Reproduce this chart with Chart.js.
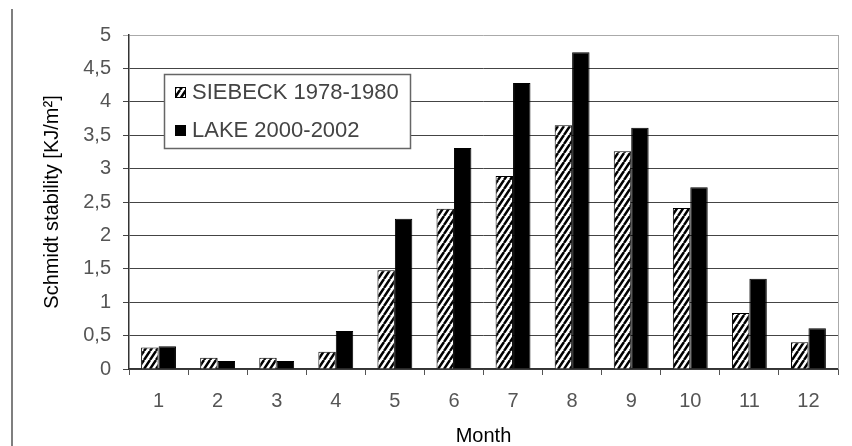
<!DOCTYPE html>
<html><head><meta charset="utf-8">
<script src="https://cdn.jsdelivr.net/npm/chart.js@4/dist/chart.umd.min.js"></script>
<style>html,body{margin:0;padding:0;background:#fff;}#wrap{position:relative;width:852px;height:446px;}</style>
</head><body><div id="wrap"><canvas id="c" width="852" height="446"></canvas></div>
<script>
const months = ['1','2','3','4','5','6','7','8','9','10','11','12'];
const siebeck = [0.32, 0.17, 0.17, 0.26, 1.48, 2.40, 2.89, 3.65, 3.26, 2.41, 0.84, 0.40];
const lake = [0.34, 0.12, 0.12, 0.57, 2.25, 3.31, 4.28, 4.74, 3.61, 2.72, 1.35, 0.61];
const seriesLabels = ['SIEBECK 1978-1980', 'LAKE 2000-2002'];
const yMin = 0, yMax = 5, yStep = 0.5;
const yTitle = 'Schmidt stability [KJ/m²]';
const xTitle = 'Month';

const FONT = '"Liberation Sans", Arial, sans-serif';
const canvas = document.getElementById('c');
const ctx0 = canvas.getContext('2d');

function makeHatch(ctx) {
  const w = 6, h = 9;
  const c = document.createElement('canvas');
  c.width = w; c.height = h;
  const g = c.getContext('2d');
  g.fillStyle = '#fff'; g.fillRect(0, 0, w, h);
  g.strokeStyle = '#000'; g.lineWidth = 2.5;
  g.beginPath();
  for (const dx of [-w, 0, w]) { g.moveTo(dx, h); g.lineTo(dx + w, 0); }
  g.stroke();
  return ctx.createPattern(c, 'repeat');
}
const hatch = makeHatch(ctx0);

const framePlugin = {
  id: 'frame',
  beforeDraw(chart) {
    const ctx = chart.ctx;
    ctx.save();
    ctx.fillStyle = '#fff';
    ctx.fillRect(0, 0, chart.width, chart.height);
    ctx.strokeStyle = '#555';
    ctx.lineWidth = 1.5;
    ctx.beginPath(); ctx.moveTo(12, 9); ctx.lineTo(12, chart.height); ctx.stroke();
    ctx.restore();
  },
  beforeDatasetsDraw(chart) {
    const a = chart.chartArea, ctx = chart.ctx;
    ctx.save();
    ctx.strokeStyle = '#aaa'; ctx.lineWidth = 1;
    ctx.beginPath(); ctx.moveTo(a.right + 0.5, a.top); ctx.lineTo(a.right + 0.5, a.bottom); ctx.stroke();
    ctx.restore();
  },
  afterDraw(chart) {
    const ctx = chart.ctx;
    ctx.save();
    const bx = 164, by = 74, bw = 246, bh = 74;
    ctx.fillStyle = '#fff';
    ctx.fillRect(bx, by, bw, bh);
    ctx.strokeStyle = '#666'; ctx.lineWidth = 1.5;
    ctx.strokeRect(bx + 0.5, by + 0.5, bw, bh);
    const rows = [92, 130];
    chart.data.datasets.forEach((ds, i) => {
      const y = rows[i];
      ctx.fillStyle = ds.backgroundColor;
      ctx.fillRect(175, y - 5, 10, 10);
      ctx.strokeStyle = '#000'; ctx.lineWidth = 1;
      ctx.strokeRect(175.5, y - 4.5, 10, 10);
      ctx.fillStyle = '#444';
      ctx.font = '22px ' + FONT;
      ctx.textBaseline = 'middle';
      ctx.textAlign = 'left';
      ctx.fillText(ds.label, 192, y + 1);
    });
    ctx.restore();
  }
};

new Chart(canvas, {
  type: 'bar',
  data: {
    labels: months,
    datasets: [
      { label: seriesLabels[0], data: siebeck, backgroundColor: hatch, borderColor: '#000', borderWidth: 1 },
      { label: seriesLabels[1], data: lake, backgroundColor: '#000', borderColor: '#000', borderWidth: 1 }
    ]
  },
  options: {
    responsive: false,
    devicePixelRatio: 1,
    animation: false,
    categoryPercentage: 0.59,
    barPercentage: 1.0,
    layout: { padding: { left: 40, right: 14, top: 35, bottom: 0 } },
    plugins: { legend: { display: false }, tooltip: { enabled: false } },
    scales: {
      x: {
        offset: true,
        grid: { drawOnChartArea: false, drawTicks: true, tickLength: 6, color: '#555', offset: true },
        border: { color: '#333', width: 1.5 },
        ticks: { color: '#555', font: { family: FONT, size: 20 }, padding: 14, maxRotation: 0 },
        title: { display: true, text: xTitle, color: '#000', font: { family: FONT, size: 20, lineHeight: 1 }, padding: { top: 0, bottom: 0 } },
        afterFit(scale) { scale.height = 77; }
      },
      y: {
        min: yMin, max: yMax,
        grid: { color: (c) => (c.tick && c.tick.value === yMax) ? '#aaa' : '#444', lineWidth: 1, tickLength: 6, drawTicks: true },
        border: { color: '#333', width: 1.5 },
        ticks: { stepSize: yStep, color: '#555', font: { family: FONT, size: 20 }, padding: 12,
          callback: (v) => String(v).replace('.', ',') },
        title: { display: true, text: yTitle, color: '#000', font: { family: FONT, size: 20, lineHeight: 1.2 }, padding: { top: 0, bottom: 0 } },
        afterFit(scale) { scale.width = 89; }
      }
    }
  },
  plugins: [framePlugin]
});
</script></body></html>
